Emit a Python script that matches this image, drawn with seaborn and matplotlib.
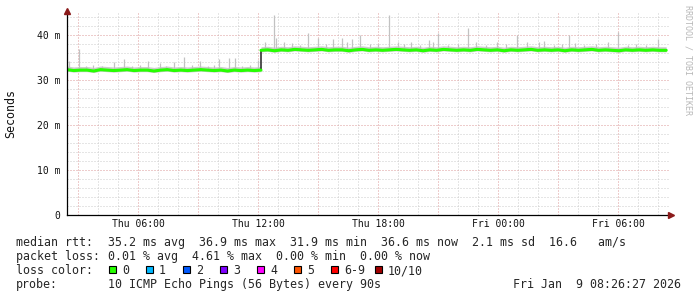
import numpy as np
import pandas as pd
import matplotlib
matplotlib.use("Agg")
import matplotlib.pyplot as plt
import seaborn as sns
from matplotlib.ticker import FixedLocator, MultipleLocator, FixedFormatter
from matplotlib.patches import Rectangle

# ---------------- data (hours since Thu 00:00, values in ms) ----------------
start_hour = 2.44
step_hour = 12.14
end_hour = 32.40

median_before = [32.3, 32.1, 32.2, 32.2, 32.0, 32.3, 32.2, 32.1, 32.2, 32.3,
                 32.1, 32.2, 32.2, 32.0, 32.2, 32.3, 32.1, 32.2, 32.1, 32.2,
                 32.3, 32.2, 32.1, 32.2, 32.0, 32.2, 32.1, 32.2, 32.1, 32.2]
median_after = [36.6, 36.7, 36.5, 36.7, 36.6, 36.8, 36.7, 36.6, 36.7, 36.8,
                36.6, 36.7, 36.7, 36.5, 36.7, 36.8, 36.6, 36.7, 36.6, 36.7,
                36.8, 36.7, 36.6, 36.7, 36.5, 36.7, 36.6, 36.8, 36.7, 36.6,
                36.7, 36.6, 36.8, 36.7, 36.6, 36.7, 36.5, 36.7, 36.6, 36.7,
                36.8, 36.6, 36.7, 36.6, 36.7, 36.5, 36.7, 36.6, 36.7, 36.8,
                36.6, 36.7, 36.6, 36.5, 36.7, 36.6, 36.7, 36.6, 36.7, 36.6, 36.6]

spike_hours = [2.56, 3.04, 3.40, 3.74, 4.20, 4.79, 5.29, 5.70, 6.10, 6.49,
               7.09, 7.40, 7.79, 8.29, 8.70, 9.09, 9.50, 9.80, 10.04, 10.54,
               10.84, 11.20, 11.60, 11.99,
               12.34, 12.81, 12.89, 13.29, 13.69, 14.10, 14.49, 14.99, 15.40, 15.74,
               16.19, 16.44, 16.69, 17.09, 17.60, 18.00, 18.54, 18.99, 19.30, 19.64,
               20.10, 20.54, 20.74, 20.99, 21.50, 22.00, 22.49, 22.89, 23.40, 23.94,
               24.40, 24.94, 25.44, 26.04, 26.29, 26.80, 27.20, 27.54, 27.84, 28.30,
               28.90, 29.49, 29.99, 30.49, 30.90, 31.40, 31.99]
spike_tops = [34.2, 36.8, 33.2, 33.4, 33.1, 34.0, 34.6, 33.2, 33.3, 34.2,
              33.8, 33.1, 34.0, 35.1, 33.3, 34.2, 33.2, 33.4, 34.7, 34.9,
              34.9, 33.2, 33.3, 34.4,
              38.4, 44.4, 39.3, 38.5, 38.2, 37.8, 40.4, 39.3, 37.9, 39.1,
              39.3, 38.5, 39.1, 40.0, 37.9, 38.0, 44.4, 38.5, 37.9, 38.5,
              37.8, 38.9, 38.5, 40.4, 37.8, 37.9, 41.5, 38.5, 37.8, 38.5,
              37.9, 40.0, 38.5, 38.5, 38.7, 37.8, 37.9, 40.0, 38.2, 37.8,
              37.9, 38.5, 40.7, 37.8, 37.9, 37.8, 39.1]

xtick_hours = [6, 12, 18, 24, 30]
xtick_labels = ["Thu 06:00", "Thu 12:00", "Thu 18:00", "Fri 00:00", "Fri 06:00"]
ytick_values = [0, 10, 20, 30, 40]
ytick_labels = ["0", "10 m", "20 m", "30 m", "40 m"]

loss_labels = ["0", "1", "2", "3", "4", "5", "6-9", "10/10"]
loss_colors = ["#26ff00", "#00b8ff", "#0059ff", "#7e00ff", "#ff00ff",
               "#ff5500", "#ff0000", "#a10000"]

rtt_line = "35.2 ms avg  36.9 ms max  31.9 ms min  36.6 ms now  2.1 ms sd  16.6   am/s"
loss_line = "0.01 % avg  4.61 % max  0.00 % min  0.00 % now"
probe_line = "10 ICMP Echo Pings (56 Bytes) every 90s"
stamp = "Fri Jan  9 08:26:27 2026"

# ---------------- figure ----------------
sns.set_style("white")
MONO = ["DejaVu Sans Mono", "DejaVu Sans"]
plt.rcParams["font.family"] = MONO

W, H = 697, 297
fig = plt.figure(figsize=(W / 100, H / 100), dpi=100)
fig.patch.set_facecolor("white")

x0, x1, ytop, ybot = 67, 669, 13, 215
ax = fig.add_axes([x0 / W, 1 - ybot / H, (x1 - x0) / W, (ybot - ytop) / H])
ax.set_facecolor("white")

xmin = start_hour
xmax = start_hour + (x1 - x0) / 20.0
ymax = (ybot - ytop) / 4.5
ax.set_xlim(xmin, xmax)
ax.set_ylim(0, ymax)

t_before = np.linspace(start_hour, step_hour, len(median_before))
t_after = np.linspace(step_hour, end_hour, len(median_after))
df_b = pd.DataFrame({"t": t_before, "ms": median_before})
df_a = pd.DataFrame({"t": t_after, "ms": median_after})
df_all = pd.concat([df_b, df_a], ignore_index=True)

# grid
minor_c = "#cccccc"
major_c = "#dc9a9a"
ax.xaxis.set_major_locator(FixedLocator(xtick_hours))
ax.xaxis.set_major_formatter(FixedFormatter(xtick_labels))
ax.xaxis.set_minor_locator(MultipleLocator(1))
ax.yaxis.set_major_locator(FixedLocator(ytick_values))
ax.yaxis.set_major_formatter(FixedFormatter(ytick_labels))
ax.yaxis.set_minor_locator(MultipleLocator(2))

dash = (0, (1, 2))
for h in np.arange(3, 33, 1):
    if xmin < h < xmax:
        is_major = (h % 3 == 0)
        ax.axvline(h, color=major_c if is_major else minor_c, lw=0.72,
                   ls=dash, zorder=0.5)
for v in np.arange(2, ymax, 2):
    is_major = (v % 10 == 0)
    ax.axhline(v, color=major_c if is_major else minor_c, lw=0.72,
               ls=dash, zorder=0.5)

# smoke
med_all = df_all["ms"].to_numpy()
t_all = df_all["t"].to_numpy()
ax.fill_between(t_before, np.array(median_before) - 0.35, np.array(median_before) + 0.8,
                color="#cdcdcd", lw=0, zorder=1)
ax.fill_between(t_after, np.array(median_after) - 0.35, np.array(median_after) + 0.8,
                color="#cdcdcd", lw=0, zorder=1)
base = np.interp(spike_hours, t_all, med_all)
ax.vlines(spike_hours, base, spike_tops, color="#c2c2c2", lw=0.9, zorder=1.2)

# median lines
sns.lineplot(data=df_all, x="t", y="ms", ax=ax, color="#202020", lw=1.1,
             zorder=2, estimator=None, sort=False)
sns.lineplot(data=df_b, x="t", y="ms", ax=ax, color=loss_colors[0], lw=2.2,
             zorder=3, estimator=None)
sns.lineplot(data=df_a, x="t", y="ms", ax=ax, color=loss_colors[0], lw=2.2,
             zorder=3, estimator=None)
ax.set_xlabel("")
ax.set_ylabel("")

# spines / ticks
for s in ["top", "right"]:
    ax.spines[s].set_visible(False)
for s in ["left", "bottom"]:
    ax.spines[s].set_color("black")
    ax.spines[s].set_linewidth(0.9)
    ax.spines[s].set_zorder(5)
ax.tick_params(axis="both", which="both", direction="out", length=2.2,
               width=0.6, color="#555555")
ax.tick_params(axis="x", which="major", pad=1.0, labelsize=7)
ax.tick_params(axis="y", which="major", pad=2.6, labelsize=7)
for lab in ax.get_xticklabels() + ax.get_yticklabels():
    lab.set_family(MONO)
    lab.set_color("#111111")

# arrows
arrow_c = "#8b1a1a"
ax.plot([0], [1.0 + 2.0 / (ybot - ytop)], marker="^", ms=4, color=arrow_c,
        transform=ax.transAxes, clip_on=False, zorder=6)
ax.plot([1.0 + 2.0 / (x1 - x0)], [0], marker=">", ms=4, color=arrow_c,
        transform=ax.transAxes, clip_on=False, zorder=6)

# ---------------- texts ----------------
def fx(px):
    return px / W

def fy(py):
    return 1 - py / H

fig.text(fx(11), fy(113.5), "Seconds", rotation=90, ha="center", va="center",
         fontsize=8.4, family=MONO, color="#111111")
fig.text(fx(688), fy(60), "RRDTOOL / TOBI OETIKER", rotation=270, ha="center",
         va="center", fontsize=6, family=MONO, color="#b8b8b8")

lfs = 8.4
col2 = 108
base_y = [246, 260, 274, 288]
fig.text(fx(16), fy(base_y[0]), "median rtt:", fontsize=lfs, va="baseline", family=MONO)
fig.text(fx(col2), fy(base_y[0]), rtt_line, fontsize=lfs, va="baseline", family=MONO)
fig.text(fx(16), fy(base_y[1]), "packet loss:", fontsize=lfs, va="baseline", family=MONO)
fig.text(fx(col2), fy(base_y[1]), loss_line, fontsize=lfs, va="baseline", family=MONO)
fig.text(fx(16), fy(base_y[2]), "loss color:", fontsize=lfs, va="baseline", family=MONO)
box_x = [109, 146, 183, 220, 257, 294, 331, 375]
for bx, lab, c in zip(box_x, loss_labels, loss_colors):
    fig.patches.append(Rectangle((fx(bx), fy(273)), 7 / W, 7 / H, transform=fig.transFigure,
                                 facecolor=c, edgecolor="black", lw=0.8))
    fig.text(fx(bx + 13), fy(base_y[2]), lab, fontsize=lfs, va="baseline", family=MONO)
fig.text(fx(16), fy(base_y[3]), "probe:", fontsize=lfs, va="baseline", family=MONO)
fig.text(fx(col2), fy(base_y[3]), probe_line, fontsize=lfs, va="baseline", family=MONO)
fig.text(fx(513), fy(base_y[3]), stamp, fontsize=lfs, va="baseline", family=MONO)

fig.savefig("out.png", dpi=100, facecolor="white")
